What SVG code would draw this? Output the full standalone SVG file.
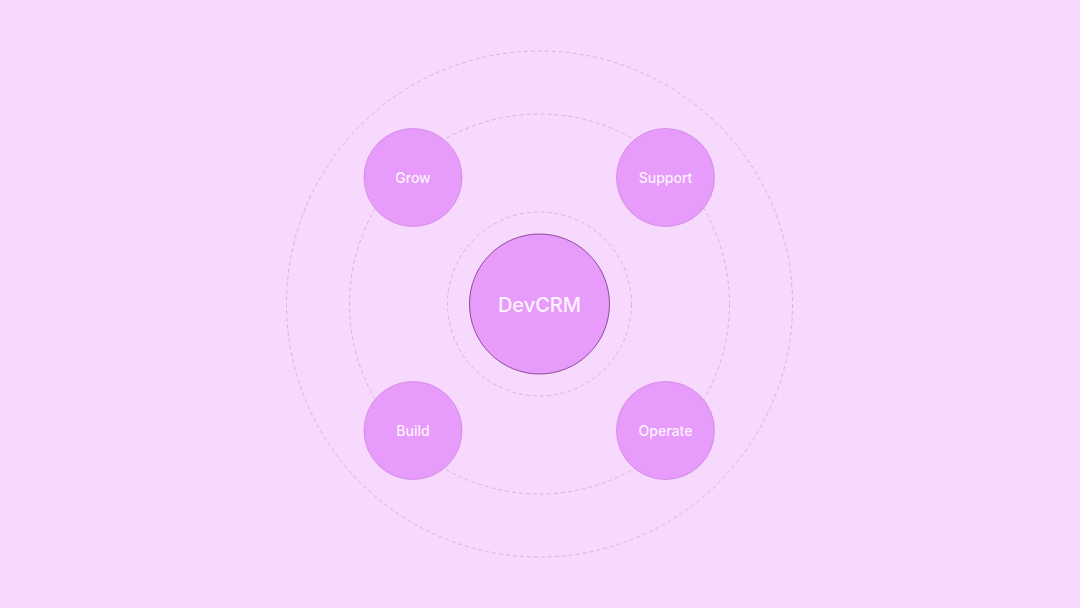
<svg xmlns="http://www.w3.org/2000/svg" width="1080" height="608" viewBox="0 0 1080 608">
<style>
.ring{fill:none;stroke:#d4a6dc;stroke-width:0.8;stroke-dasharray:4 3}
.sat{fill:#e79bfa;stroke:#cf86e2;stroke-width:0.8}
.hub{fill:#e79bfa;stroke:#8e4a9c;stroke-width:1}
.lbl{font-family:Inter,"Liberation Sans",sans-serif;fill:#fdf2ff;text-anchor:middle;dominant-baseline:central;font-weight:500}
</style>
<rect width="1080" height="608" fill="#f6d9fd"/>
<g id="connectors">
<circle class="ring" cx="539.5" cy="304" r="253"/>
<circle class="ring" cx="539.5" cy="304" r="190"/>
<circle class="ring" cx="539.5" cy="304" r="92"/>
</g>
<g id="devcrm">
<circle class="hub" cx="539.5" cy="304" r="70"/>
<text class="lbl" x="539.5" y="304.5" font-size="20">DevCRM</text>
</g>
<g id="grow">
<circle class="sat" cx="413" cy="177.5" r="49"/>
<text class="lbl" x="413" y="177.5" font-size="14">Grow</text>
</g>
<g id="support">
<circle class="sat" cx="665.5" cy="177.5" r="49"/>
<text class="lbl" x="665.5" y="177.5" font-size="14">Support</text>
</g>
<g id="build">
<circle class="sat" cx="413" cy="430.5" r="49"/>
<text class="lbl" x="413" y="430.5" font-size="14">Build</text>
</g>
<g id="operate">
<circle class="sat" cx="665.5" cy="430.5" r="49"/>
<text class="lbl" x="665.5" y="430.5" font-size="14">Operate</text>
</g>
</svg>
